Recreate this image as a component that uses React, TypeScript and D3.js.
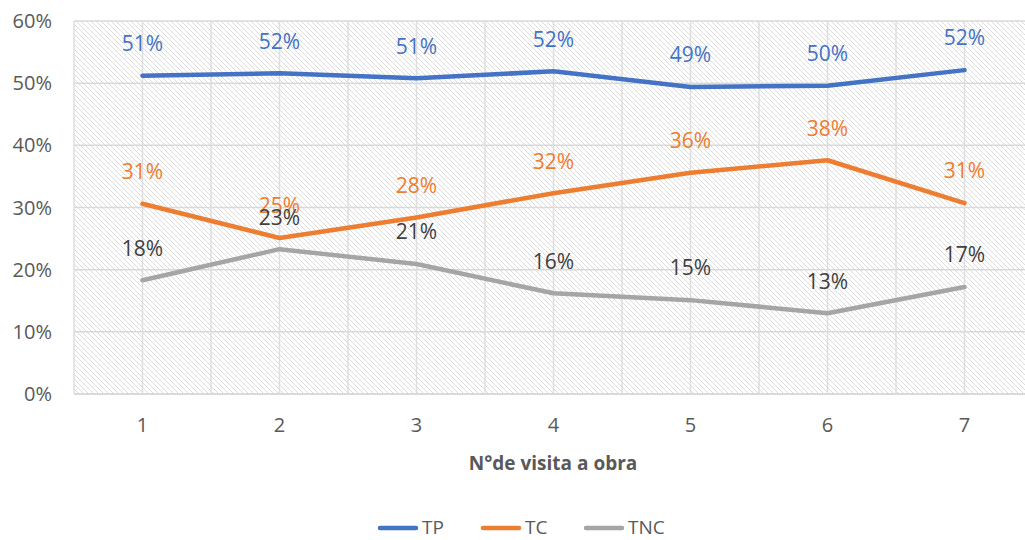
import React from "react";
import * as d3 from "d3";

const visits = [1, 2, 3, 4, 5, 6, 7];
const tp = [51.2, 51.6, 50.8, 51.9, 49.4, 49.6, 52.1];
const tc = [30.6, 25.1, 28.4, 32.3, 35.6, 37.6, 30.7];
const tnc = [18.3, 23.3, 20.9, 16.2, 15.1, 13.0, 17.2];
const yTicks = [0, 10, 20, 30, 40, 50, 60];

const series = [
  { name: "TP", values: tp, color: "#4472C4", labelColor: "#4472C4" },
  { name: "TC", values: tc, color: "#ED7D31", labelColor: "#ED7D31" },
  { name: "TNC", values: tnc, color: "#A5A5A5", labelColor: "#404040" },
];

const W = 1025;
const H = 540;
const left = 74;
const top = 21;
const bottom = 394;
const font = "'Open Sans', 'Liberation Sans', sans-serif";

export default function App() {
  const x = d3.scaleLinear().domain([0.5, 7.5]).range([left, left + 137 * 7]);
  const y = d3.scaleLinear().domain([0, 60]).range([bottom, top]);
  const line = d3
    .line<number>()
    .x((_, i) => x(visits[i]))
    .y((d) => y(d));
  const right = Math.min(x(7.5), W);
  const vGrid = d3.range(0.5, 7.51, 0.5);

  return (
    <svg
      width={W}
      height={H}
      style={{ position: "absolute", left: 0, top: 0, background: "#fff" }}
      fontFamily={font}
    >
      <defs>
        <pattern id="hatch" width="5" height="5" patternUnits="userSpaceOnUse">
          <path d="M-1,-1 L6,6 M-1,4 L1,6 M4,-1 L6,1" stroke="#dcdcdc" strokeWidth="1" />
        </pattern>
      </defs>
      <rect x={left} y={top} width={right - left} height={bottom - top} fill="url(#hatch)" />
      {yTicks.map((t) => (
        <line key={t} x1={left} x2={right} y1={y(t)} y2={y(t)} stroke="#d9d9d9" strokeWidth={t === 0 ? 2 : 1.5} />
      ))}
      {vGrid.map((v) => (
        <line key={v} x1={x(v)} x2={x(v)} y1={top} y2={bottom} stroke="#dedede" strokeWidth={1.5} />
      ))}
      {yTicks.map((t) => (
        <text key={t} x={52} y={y(t)} dy="0.35em" textAnchor="end" fontSize={20} fill="#595959">
          {t}%
        </text>
      ))}
      {visits.map((v) => (
        <text key={v} x={x(v)} y={425} dy="0.35em" textAnchor="middle" fontSize={20} fill="#595959">
          {v}
        </text>
      ))}
      <text x={553} y={463} dy="0.35em" textAnchor="middle" fontSize={19} fontWeight="bold" fill="#595959">
        N°de visita a obra
      </text>
      {series.map((s) => (
        <path
          key={s.name}
          d={line(s.values) || ""}
          fill="none"
          stroke={s.color}
          strokeWidth={4.5}
          strokeLinejoin="round"
          strokeLinecap="round"
        />
      ))}
      {series.map((s) =>
        s.values.map((v, i) => (
          <text
            key={s.name + i}
            x={x(visits[i])}
            y={y(v) - 32}
            dy="0.35em"
            textAnchor="middle"
            fontSize={21}
            fill={s.labelColor}
          >
            {Math.round(v)}%
          </text>
        ))
      )}
      {series.map((s, i) => {
        const lx = 380 + i * 103;
        return (
          <g key={s.name}>
            <line x1={lx} x2={lx + 36} y1={528} y2={528} stroke={s.color} strokeWidth={4.5} strokeLinecap="round" />
            <text x={lx + 42} y={527} dy="0.35em" fontSize={19} fill="#595959">
              {s.name}
            </text>
          </g>
        );
      })}
    </svg>
  );
}
